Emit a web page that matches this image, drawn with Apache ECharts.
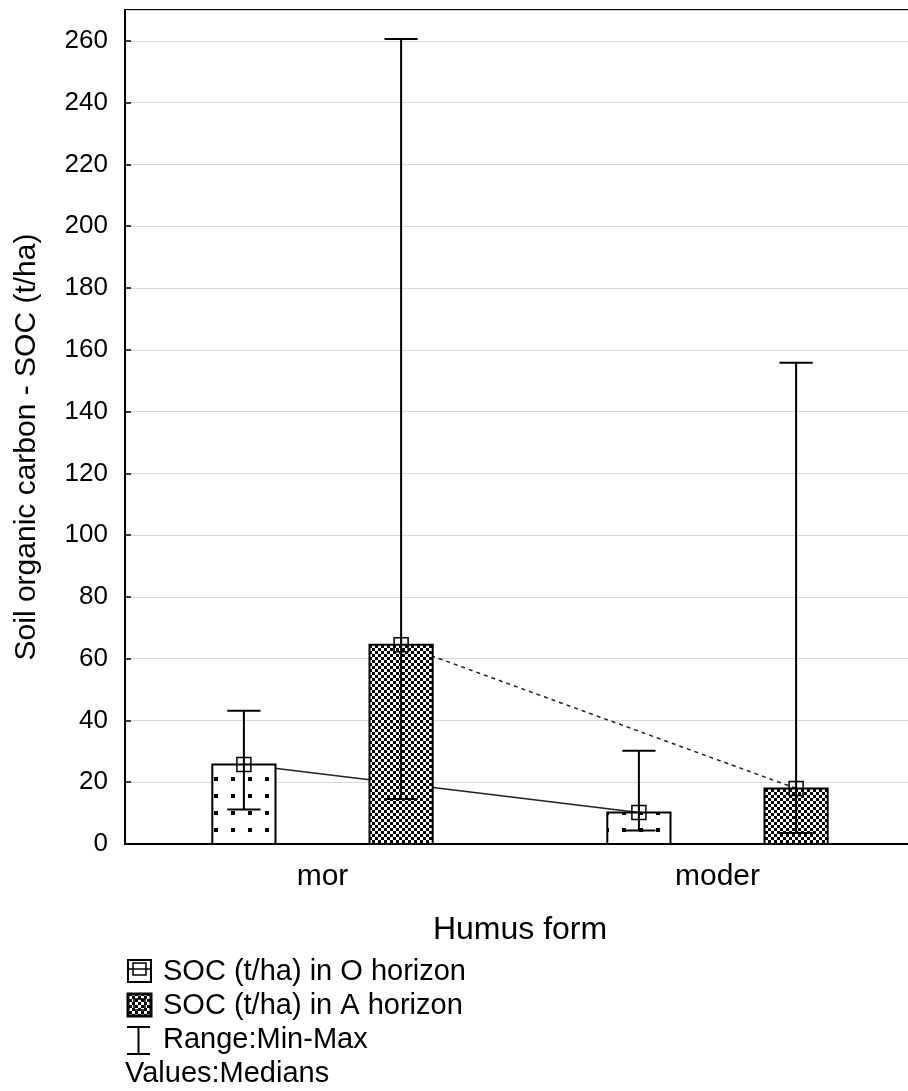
<!DOCTYPE html>
<html>
<head>
<meta charset="utf-8">
<script src="https://cdn.jsdelivr.net/npm/echarts@6/dist/echarts.min.js"></script>
<style>
  html, body { margin: 0; padding: 0; background: #fff; }
  #main { width: 908px; height: 1091px; }
</style>
</head>
<body>
<div id="main"></div>
<script>
// data (t/ha)
const categories = ['mor', 'moder'];
const oMedian = [25.7, 10.2];
const oMin = [11.2, 4.4];
const oMax = [43.1, 30.2];
const aMedian = [64.5, 18.0];
const aMin = [14.6, 3.6];
const aMax = [260.6, 155.8];

const FONT = '"Liberation Sans", Arial, sans-serif';

// fill patterns, anchored to the canvas origin
function dotPattern() {
    const c = document.createElement('canvas');
    c.width = 17; c.height = 17;
    const ctx = c.getContext('2d');
    ctx.fillStyle = '#fff';
    ctx.fillRect(0, 0, 17, 17);
    ctx.fillStyle = '#000';
    ctx.fillRect(10, 12, 4, 4);
    return c;
}
function checkPattern() {
    const c = document.createElement('canvas');
    c.width = 6; c.height = 6;
    const ctx = c.getContext('2d');
    ctx.fillStyle = '#fff';
    ctx.fillRect(0, 0, 6, 6);
    ctx.fillStyle = '#000';
    ctx.fillRect(0, 0, 3, 3);
    ctx.fillRect(3, 3, 3, 3);
    return c;
}
const dots = dotPattern();
const checks = checkPattern();

const OFFSET = 0.199;   // bar centre offset, fraction of category band
const BAR_W = 0.16;
const CAP = 0.042;

function rows(med, mn, mx) {
    return categories.map((c, i) => [i, med[i], mn[i], mx[i]]);
}

function barRender(side, pattern) {
    return function (params, api) {
        const cat = api.value(0);
        const band = api.size([1, 0])[0];
        const base = api.coord([cat, 0]);
        const cx = base[0] + side * band * OFFSET;
        const y0 = base[1];
        const yMed = api.coord([cat, api.value(1)])[1];
        const yMin = api.coord([cat, api.value(2)])[1];
        const yMax = api.coord([cat, api.value(3)])[1];
        const w = band * BAR_W;
        const cap = band * CAP;
        const m = 7;
        const ink = {stroke: '#000', lineWidth: 2};
        return {
            type: 'group',
            children: [
                {type: 'rect', shape: {x: cx - w / 2, y: yMed, width: w, height: y0 - yMed},
                    style: {fill: {image: pattern, repeat: 'repeat'}, stroke: '#000', lineWidth: 2}},
                {type: 'line', shape: {x1: cx, y1: yMax, x2: cx, y2: yMin}, style: ink},
                {type: 'line', shape: {x1: cx - cap, y1: yMax, x2: cx + cap, y2: yMax}, style: ink},
                {type: 'line', shape: {x1: cx - cap, y1: yMin, x2: cx + cap, y2: yMin}, style: ink},
                {type: 'rect', shape: {x: cx - m, y: yMed - m, width: 2 * m, height: 2 * m},
                    style: {fill: 'none', stroke: '#000', lineWidth: 1.5}}
            ]
        };
    };
}

// line joining medians of one horizon across humus forms
function linkRender(side, med, dashed) {
    return function (params, api) {
        const i = api.value(0);
        if (i >= categories.length - 1) return null;
        const band = api.size([1, 0])[0];
        const p1 = api.coord([i, med[i]]);
        const p2 = api.coord([i + 1, med[i + 1]]);
        return {
            type: 'line',
            shape: {x1: p1[0] + side * band * OFFSET, y1: p1[1], x2: p2[0] + side * band * OFFSET, y2: p2[1]},
            style: {stroke: '#222', lineWidth: 1.5, lineDash: dashed ? [4, 4] : null}
        };
    };
}

const chart = echarts.init(document.getElementById('main'));

const option = {
    backgroundColor: '#fff',
    animation: false,
    grid: {
        left: 125, top: 10, width: 790, height: 834,
        outerBoundsMode: 'none',
        show: true, borderColor: '#000', borderWidth: 2, backgroundColor: 'transparent'
    },
    xAxis: {
        type: 'category',
        data: categories,
        axisLine: {lineStyle: {color: '#000', width: 2}},
        axisTick: {inside: true, alignWithLabel: true, length: 6, lineStyle: {color: '#000', width: 1.5}},
        axisLabel: {color: '#000', fontSize: 30, fontFamily: FONT, margin: 18},
        name: 'Humus form',
        nameLocation: 'middle',
        nameGap: 70,
        nameTextStyle: {color: '#000', fontSize: 32, fontFamily: FONT}
    },
    yAxis: {
        type: 'value',
        min: 0, max: 270, interval: 20,
        axisLine: {show: true, lineStyle: {color: '#000', width: 2}},
        axisTick: {show: true, inside: true, length: 6, lineStyle: {color: '#000', width: 1.5}},
        axisLabel: {color: '#000', fontSize: 26, fontFamily: FONT, margin: 17, showMaxLabel: false},
        splitLine: {lineStyle: {color: '#d9d9d9', width: 1}}
    },
    series: [
        {type: 'custom', z: 1, data: rows(oMedian, oMin, oMax), encode: {x: 0, y: 1},
            renderItem: linkRender(-1, oMedian, false)},
        {type: 'custom', z: 1, data: rows(aMedian, aMin, aMax), encode: {x: 0, y: 1},
            renderItem: linkRender(1, aMedian, true)},
        {name: 'SOC (t/ha) in O horizon', type: 'custom', z: 2, data: rows(oMedian, oMin, oMax),
            encode: {x: 0, y: [1, 2, 3]}, renderItem: barRender(-1, dots)},
        {name: 'SOC (t/ha) in A horizon', type: 'custom', z: 2, data: rows(aMedian, aMin, aMax),
            encode: {x: 0, y: [1, 2, 3]}, renderItem: barRender(1, checks)}
    ],
    graphic: [
        {type: 'text', x: 27, y: 447, rotation: Math.PI / 2,
            style: {text: 'Soil organic carbon - SOC (t/ha)', font: '30px ' + FONT, fill: '#000',
                align: 'center', verticalAlign: 'middle'}},
        // legend
        {type: 'rect', shape: {x: 128, y: 960, width: 23, height: 22}, style: {fill: '#fff', stroke: '#000', lineWidth: 2}},
        {type: 'rect', shape: {x: 133, y: 963, width: 13, height: 12}, style: {fill: 'none', stroke: '#000', lineWidth: 1.5}},
        {type: 'line', shape: {x1: 129, y1: 969, x2: 150, y2: 969}, style: {stroke: '#000', lineWidth: 1.5}},
        {type: 'rect', shape: {x: 128, y: 994, width: 23, height: 22}, style: {fill: {image: checks, repeat: 'repeat'}, stroke: '#000', lineWidth: 3}},
        {type: 'rect', shape: {x: 134, y: 999, width: 11, height: 11}, style: {fill: 'none', stroke: '#000', lineWidth: 1.5}},
        {type: 'line', shape: {x1: 127, y1: 1027, x2: 150, y2: 1027}, style: {stroke: '#000', lineWidth: 2}},
        {type: 'line', shape: {x1: 138.5, y1: 1027, x2: 138.5, y2: 1054}, style: {stroke: '#000', lineWidth: 2}},
        {type: 'line', shape: {x1: 127, y1: 1054, x2: 150, y2: 1054}, style: {stroke: '#000', lineWidth: 2}},
        {type: 'text', x: 163, y: 972, style: {text: 'SOC (t/ha) in O horizon', font: '29px ' + FONT, fill: '#000', verticalAlign: 'middle'}},
        {type: 'text', x: 163, y: 1006, style: {text: 'SOC (t/ha) in A horizon', font: '29px ' + FONT, fill: '#000', verticalAlign: 'middle'}},
        {type: 'text', x: 163, y: 1040, style: {text: 'Range:Min-Max', font: '29px ' + FONT, fill: '#000', verticalAlign: 'middle'}},
        {type: 'text', x: 125, y: 1074, style: {text: 'Values:Medians', font: '29px ' + FONT, fill: '#000', verticalAlign: 'middle'}}
    ]
};

chart.setOption(option);
</script>
</body>
</html>
